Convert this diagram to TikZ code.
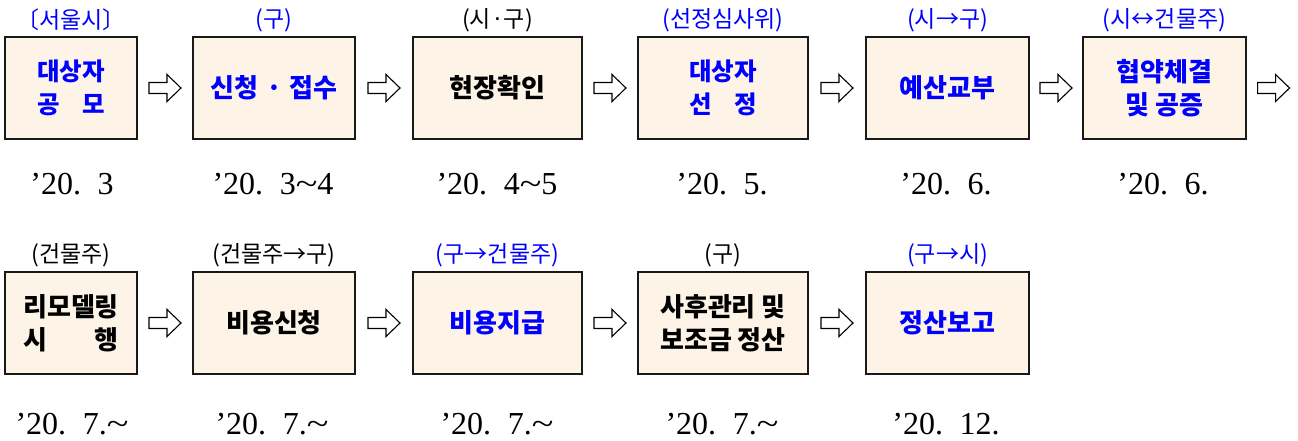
\documentclass[tikz,border=0pt]{standalone}
\usepackage{fontspec}
\usepackage{calc}
\usetikzlibrary{calc}
\newfontfamily\kr{Noto Sans CJK KR}
\newfontfamily\dt{Liberation Serif}
\definecolor{boxfill}{RGB}{253,244,231}
\definecolor{kblue}{RGB}{0,0,255}
\newcommand{\spread}[2]{\makebox[\widthof{#1}][s]{#2}}
\newcommand{\wt}{\scalebox{1.25}[1]{\textasciitilde}}
\newcommand{\gp}{\hspace{0.52em}}
\tikzset{
  stepbox/.style={draw=black!90, line width=1.1pt, fill=boxfill, minimum height=102pt, inner sep=0pt, align=center,
     font=\kr\bfseries\fontsize{26}{33}\selectfont},
  smalltext/.style={font=\kr\bfseries\fontsize{24.5}{33}\selectfont},
  toplab/.style={font=\kr\fontsize{23}{25}\selectfont, inner sep=0pt},
  datelab/.style={font=\dt\fontsize{32}{34}\selectfont, inner sep=0pt, anchor=base},
  harrow/.pic={\draw[line width=1.1pt, fill=white, line join=miter]
     (-16,-5.5) -- (2,-5.5) -- (2,-13.5) -- (16,0) -- (2,13.5) -- (2,5.5) -- (-16,5.5) -- cycle;}
}
\begin{document}
\begin{tikzpicture}[x=1pt,y=-1pt]
\useasboundingbox (0,0) rectangle (1298,441);
% row 1 boxes
\node[stepbox, smalltext, minimum width=132pt, text=kblue] (b1) at (71,88) {대상자\\\spread{대상자}{공\hfill 모}};
\node[stepbox, minimum width=162pt, text=kblue] (b2) at (274,88) {신청\hspace{0.3em}·\hspace{0.3em}접수};
\node[stepbox, minimum width=169pt] (b3) at (497.5,88) {현장확인};
\node[stepbox, smalltext, minimum width=170pt, text=kblue] (b4) at (723,88) {대상자\\\spread{대상자}{선\hfill 정}};
\node[stepbox, minimum width=163pt, text=kblue] (b5) at (947.5,88) {예산교부};
\node[stepbox, minimum width=163pt, text=kblue] (b6) at (1164.5,88) {협약체결\\및 공증};
% row 2 boxes
\node[stepbox, minimum width=132pt] (c1) at (71,323) {리모델링\\\spread{리모델링}{시\hfill 행}};
\node[stepbox, minimum width=162pt] (c2) at (274,323) {비용신청};
\node[stepbox, minimum width=169pt, text=kblue] (c3) at (497.5,323) {비용지급};
\node[stepbox, minimum width=170pt] (c4) at (723,323) {사후관리 및\\보조금 정산};
\node[stepbox, minimum width=163pt, text=kblue] (c5) at (947.5,323) {정산보고};
% top labels
\node[toplab, text=kblue] (l1) at (71,20) {〔서울시〕};
\node[toplab, text=kblue] (l2) at (274,20) {(구)};
\node[toplab] (l3) at (497.5,20) {(시·구)};
\node[toplab, text=kblue] (l4) at (723,20) {(선정심사위)};
\node[toplab, text=kblue] (l5) at (947.5,20) {(시→구)};
\node[toplab, text=kblue] (l6) at (1164.5,20) {(시↔건물주)};
\node[toplab] (m1) at (71,255) {(건물주)};
\node[toplab] (m2) at (274,255) {(건물주→구)};
\node[toplab, text=kblue] (m3) at (497.5,255) {(구→건물주)};
\node[toplab] (m4) at (723,255) {(구)};
\node[toplab, text=kblue] (m5) at (947.5,255) {(구→시)};
% dates
\node[datelab] (d1) at (72,194.5) {’20.\gp 3};
\node[datelab] (d2) at (273,194.5) {’20.\gp 3\wt 4};
\node[datelab] (d3) at (497,194.5) {’20.\gp 4\wt 5};
\node[datelab] (d4) at (722,194.5) {’20.\gp 5.};
\node[datelab] (d5) at (946,194.5) {’20.\gp 6.};
\node[datelab] (d6) at (1163,194.5) {’20.\gp 6.};
\node[datelab] (e1) at (72,434.5) {’20.\gp 7.\wt};
\node[datelab] (e2) at (272,434.5) {’20.\gp 7.\wt};
\node[datelab] (e3) at (497,434.5) {’20.\gp 7.\wt};
\node[datelab] (e4) at (722,434.5) {’20.\gp 7.\wt};
\node[datelab] (e5) at (946,434.5) {’20.\gp 12.};
% arrows
\coordinate (aend) at ([xshift=27pt]b6.east);
\path ($(b1.east)!0.5!(b2.west)$) pic {harrow};
\path ($(b2.east)!0.5!(b3.west)$) pic {harrow};
\path ($(b3.east)!0.5!(b4.west)$) pic {harrow};
\path ($(b4.east)!0.5!(b5.west)$) pic {harrow};
\path ($(b5.east)!0.5!(b6.west)$) pic {harrow};
\path (aend) pic {harrow};
\path ($(c1.east)!0.5!(c2.west)$) pic {harrow};
\path ($(c2.east)!0.5!(c3.west)$) pic {harrow};
\path ($(c3.east)!0.5!(c4.west)$) pic {harrow};
\path ($(c4.east)!0.5!(c5.west)$) pic {harrow};
\end{tikzpicture}
\end{document}
